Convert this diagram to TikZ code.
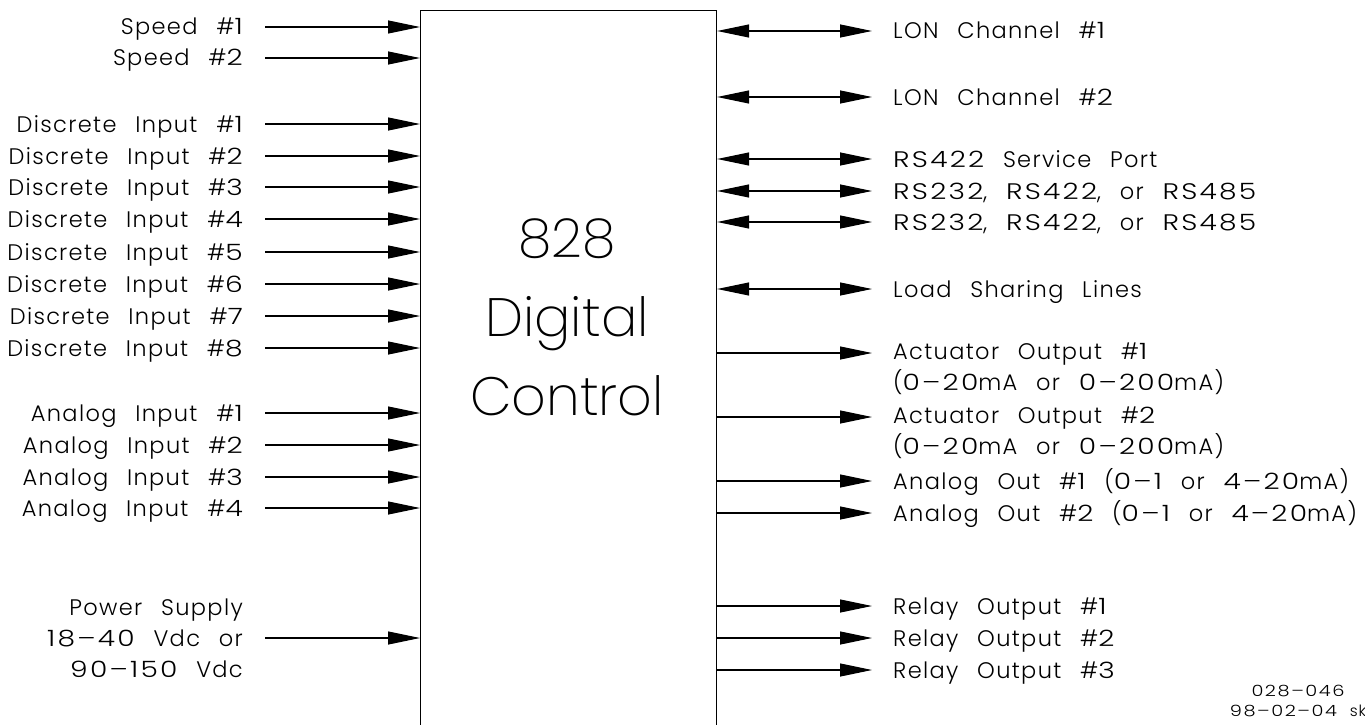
\documentclass[tikz,border=0pt]{standalone}
\usepackage{fontspec}
\setmainfont{Poppins Light}
\newfontfamily\lblfont{Poppins Light}[LetterSpace=6,WordSpace=2.5]
\newfontfamily\numfont{Poppins Light}[LetterSpace=10,FakeStretch=1.25,Numbers=Monospaced]
\newfontfamily\bigfont{Poppins ExtraLight}
\newcommand\nm[1]{{\numfont #1}}
\usetikzlibrary{arrows.meta}
\begin{document}
\begin{tikzpicture}[x=1pt,y=-1pt,
  tip/.tip={Triangle[length=32pt,width=13pt]},
  wire/.style={line width=1.1pt,-tip},
  biwire/.style={line width=1.1pt,tip-tip},
  lab/.style={font=\lblfont\fontsize{22.5}{31}\selectfont,inner sep=0pt},
  ctrlbox/.style={draw,line width=1.1pt,minimum width=296pt,minimum height=760pt,inner sep=0pt,anchor=north west},
]
\useasboundingbox (0,0) rectangle (1365,725);
\node[ctrlbox] (ctrl) at (420,10) {};
\node[font=\bigfont\fontsize{54}{79}\selectfont,align=center,inner sep=0pt] (title) at (567,317) {828\\Digital\\Control};

% left inputs
\foreach \n/\y/\t in {sp1/27/Speed \#\nm{1}, sp2/58/Speed \#\nm{2},
  di1/124/Discrete Input \#\nm{1}, di2/156/Discrete Input \#\nm{2}, di3/187/Discrete Input \#\nm{3},
  di4/219/Discrete Input \#\nm{4}, di5/252/Discrete Input \#\nm{5}, di6/284/Discrete Input \#\nm{6},
  di7/316/Discrete Input \#\nm{7}, di8/348/Discrete Input \#\nm{8},
  ai1/413/Analog Input \#\nm{1}, ai2/445/Analog Input \#\nm{2}, ai3/477/Analog Input \#\nm{3}, ai4/508/Analog Input \#\nm{4}}{
  \node[lab,anchor=base east] (\n) at (243,\y+8) {\t};
  \coordinate (\n s) at ([shift={(22,-8)}]\n.base east);
  \draw[wire] (\n s) -- (\n s -| ctrl.west);
}
\node[lab,anchor=east,align=right] (ps) at (243,638) {Power Supply\\\nm{18–40} Vdc or\\\nm{90–150} Vdc};
\coordinate (pss) at (265,638);
\draw[wire] (pss) -- (pss -| ctrl.west);

% right bidirectional
\foreach \n/\y/\t in {lon1/31/LON Channel \#\nm{1}, lon2/97/LON Channel \#\nm{2},
  rs1/159/\nm{RS422} Service Port, rs2/191/{\nm{RS232}, \nm{RS422}, or \nm{RS485}}, rs3/222/{\nm{RS232}, \nm{RS422}, or \nm{RS485}},
  ls/289/Load Sharing Lines}{
  \node[lab,anchor=base west] (\n) at (893,\y+8) {\t};
  \coordinate (\n e) at ([shift={(-21,-8)}]\n.base west);
  \draw[biwire] (\n e -| ctrl.east) -- (\n e);
}
% right outputs
\foreach \n/\y/\t in {ao1/481/Analog Out \#\nm{1} (\nm{0–1} or \nm{4–20}mA), ao2/513/Analog Out \#\nm{2} (\nm{0–1} or \nm{4–20}mA),
  ro1/606/Relay Output \#\nm{1}, ro2/638/Relay Output \#\nm{2}, ro3/670/Relay Output \#\nm{3}}{
  \node[lab,anchor=base west] (\n) at (893,\y+8) {\t};
  \coordinate (\n e) at ([shift={(-21,-8)}]\n.base west);
  \draw[wire] (\n e -| ctrl.east) -- (\n e);
}
\foreach \n/\y/\t in {act1/353/Actuator Output \#\nm{1}, act2/417/Actuator Output \#\nm{2}}{
  \node[lab,anchor=west,align=left] (\n) at (893,\y+16) {\t\\(\nm{0–20}mA or \nm{0–200}mA)};
  \coordinate (\n e) at (872,\y);
  \draw[wire] (\n e -| ctrl.east) -- (\n e);
}
\node[font=\lblfont\fontsize{15.5}{20}\selectfont,align=center,inner sep=0pt,anchor=north] (ref) at (1298,685) {\nm{028–046}\\\nm{98–02–04} sk};
\end{tikzpicture}
\end{document}
